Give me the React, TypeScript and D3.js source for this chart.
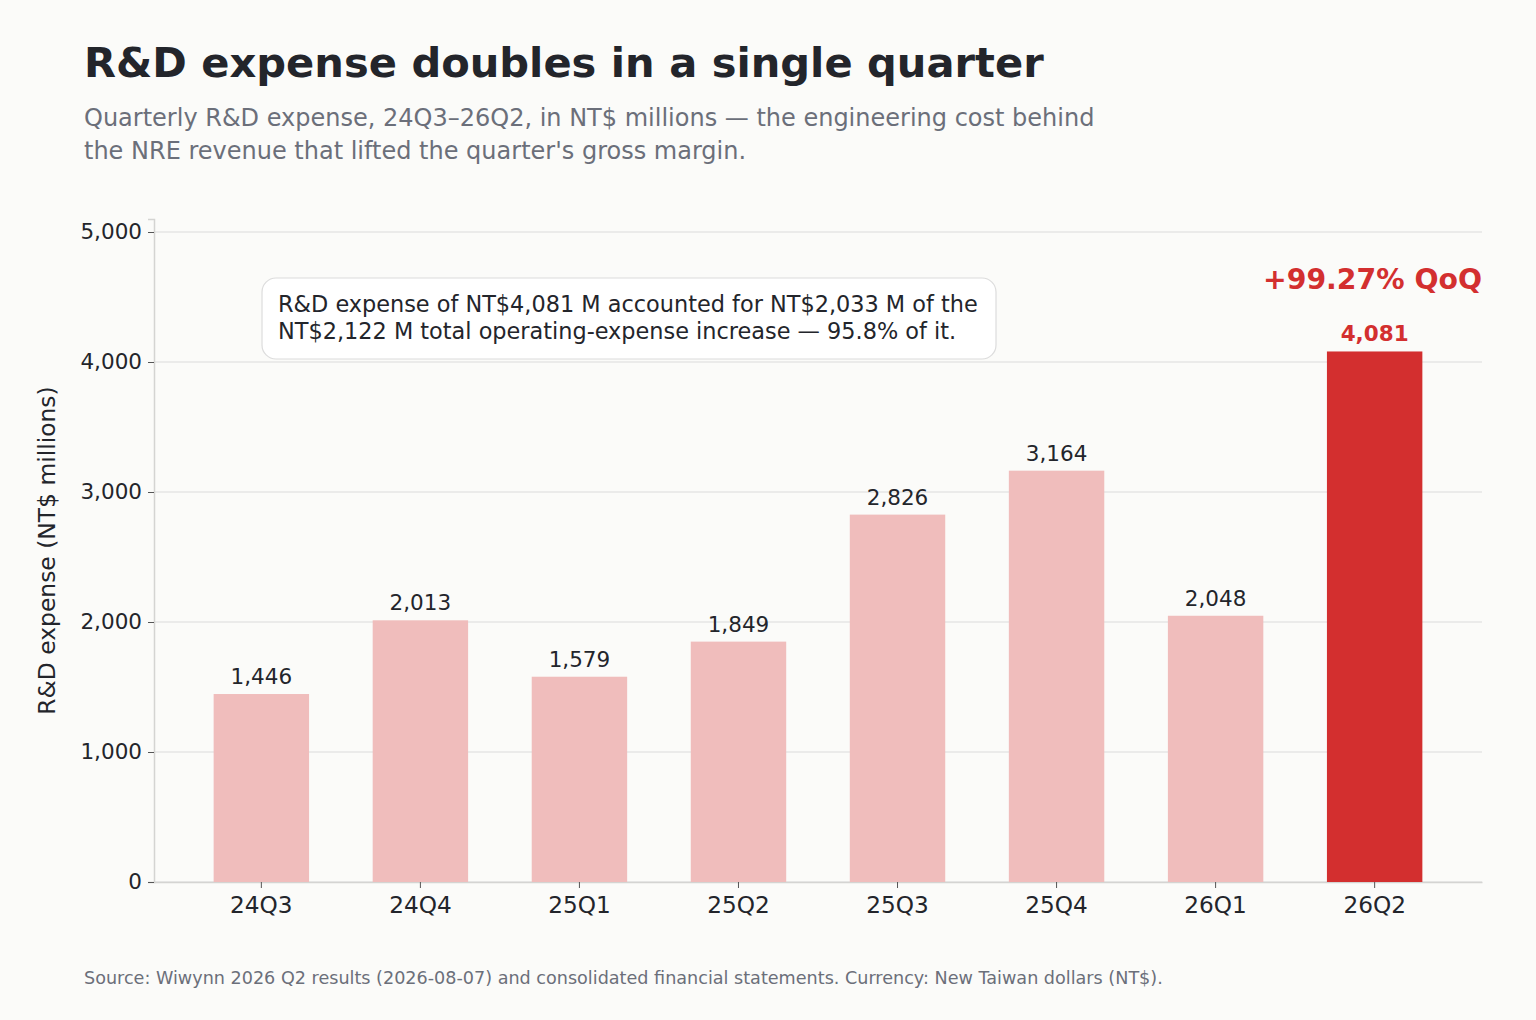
import React, { useEffect, useRef } from 'react'
import * as d3 from 'd3'

const quarters = ['24Q3', '24Q4', '25Q1', '25Q2', '25Q3', '25Q4', '26Q1', '26Q2']
const rdExpense = [1446, 2013, 1579, 1849, 2826, 3164, 2048, 4081]
const yTicks = [0, 1000, 2000, 3000, 4000, 5000]

const W = 1536
const H = 1020
const FONT = 'DejaVu Sans, sans-serif'

export default function App() {
  const ref = useRef<SVGSVGElement>(null)

  useEffect(() => {
    document.body.style.margin = '0'
    const svg = d3.select(ref.current)
    svg.selectAll('*').remove()

    const left = 154, right = 1482, top = 219, bottom = 882
    const x = d3.scaleBand().domain(quarters).range([left, right]).paddingInner(0.4).paddingOuter(0.375)
    const y = d3.scaleLinear().domain([0, 5100]).range([bottom, top])

    svg.append('rect').attr('width', W).attr('height', H).attr('fill', '#fbfbf9')

    // titles
    svg.append('text').attr('x', 84).attr('y', 77).attr('font-size', 41.6).attr('font-weight', 'bold')
      .attr('fill', '#23252b').text('R&D expense doubles in a single quarter')
    const sub = svg.append('text').attr('font-size', 24).attr('fill', '#6b6f7a')
    sub.append('tspan').attr('x', 84).attr('y', 126)
      .text('Quarterly R&D expense, 24Q3–26Q2, in NT$ millions — the engineering cost behind')
    sub.append('tspan').attr('x', 84).attr('y', 159)
      .text("the NRE revenue that lifted the quarter's gross margin.")

    // gridlines
    svg.append('g').selectAll('line').data(yTicks).join('line')
      .attr('x1', left).attr('x2', right)
      .attr('y1', d => y(d)).attr('y2', d => y(d))
      .attr('stroke', '#e6e6e4').attr('stroke-width', 1.5)

    // y axis
    const yAxis = svg.append('g').attr('transform', `translate(${left},0)`)
      .call(d3.axisLeft(y).tickValues(yTicks).tickFormat(d3.format(',')).tickSize(6).tickPadding(6))
    yAxis.select('.domain').attr('stroke', '#d4d4d2').attr('stroke-width', 1.5)
    yAxis.selectAll('.tick line').attr('stroke', '#555').attr('stroke-width', 1)
    yAxis.selectAll('.tick text').attr('font-size', 21.5).attr('font-family', FONT).attr('fill', '#23252b')

    // x axis
    const xAxis = svg.append('g').attr('transform', `translate(0,${bottom})`)
      .call(d3.axisBottom(x).tickSize(6).tickPadding(6).tickSizeOuter(0))
    xAxis.select('.domain').attr('stroke', '#d4d4d2').attr('stroke-width', 1.5)
    xAxis.selectAll('.tick line').attr('stroke', '#555').attr('stroke-width', 1)
    xAxis.selectAll('.tick text').attr('font-size', 23.2).attr('font-family', FONT).attr('fill', '#23252b')
      .attr('dy', '0.8em')

    const last = quarters.length - 1

    // bars
    svg.append('g').selectAll('rect').data(rdExpense).join('rect')
      .attr('x', (_, i) => x(quarters[i])!)
      .attr('width', x.bandwidth())
      .attr('y', d => y(d))
      .attr('height', d => bottom - y(d))
      .attr('fill', (_, i) => (i === last ? '#d32f2f' : '#f0bdbc'))

    // value labels
    svg.append('g').selectAll('text').data(rdExpense).join('text')
      .attr('x', (_, i) => x(quarters[i])! + x.bandwidth() / 2)
      .attr('y', d => y(d) - 10)
      .attr('text-anchor', 'middle')
      .attr('font-size', 21.5)
      .attr('font-weight', (_, i) => (i === last ? 'bold' : 'normal'))
      .attr('fill', (_, i) => (i === last ? '#d32f2f' : '#23252b'))
      .text(d => d3.format(',')(d))

    // QoQ
    const qoq = (rdExpense[last] / rdExpense[last - 1] - 1) * 100
    svg.append('text').attr('x', right).attr('y', 289).attr('text-anchor', 'end')
      .attr('font-size', 28.3).attr('font-weight', 'bold').attr('fill', '#d32f2f')
      .text(`+${qoq.toFixed(2)}% QoQ`)

    // annotation
    svg.append('rect').attr('x', 262).attr('y', 278).attr('width', 734).attr('height', 81)
      .attr('rx', 14).attr('fill', '#ffffff').attr('stroke', '#dcdcdc').attr('stroke-width', 1.2)
    const note = svg.append('text').attr('font-size', 22.4).attr('fill', '#23252b')
    note.append('tspan').attr('x', 278).attr('y', 312)
      .text('R&D expense of NT$4,081 M accounted for NT$2,033 M of the')
    note.append('tspan').attr('x', 278).attr('y', 339)
      .text('NT$2,122 M total operating-expense increase — 95.8% of it.')

    // y label
    svg.append('text').attr('transform', `translate(55,${(top + bottom) / 2}) rotate(-90)`)
      .attr('text-anchor', 'middle').attr('font-size', 23.4).attr('fill', '#23252b')
      .text('R&D expense (NT$ millions)')

    // source
    svg.append('text').attr('x', 84).attr('y', 984).attr('font-size', 17.6).attr('fill', '#6b6f7a')
      .text('Source: Wiwynn 2026 Q2 results (2026-08-07) and consolidated financial statements. Currency: New Taiwan dollars (NT$).')
  }, [])

  return (
    <svg ref={ref} width={W} height={H} style={{ display: 'block', fontFamily: FONT }} />
  )
}
